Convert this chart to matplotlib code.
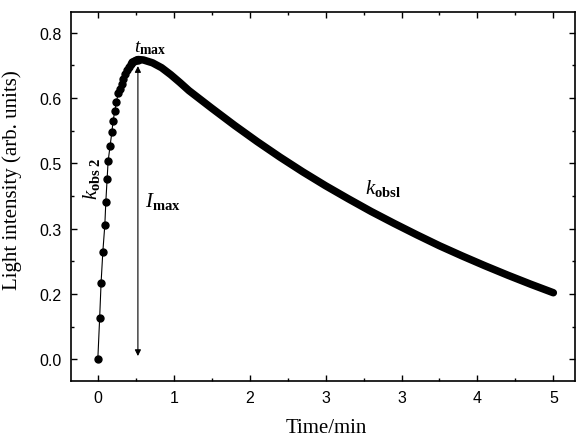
import matplotlib
matplotlib.use("Agg")
import matplotlib.pyplot as plt
from matplotlib.ticker import AutoMinorLocator

plt.rcParams['mathtext.fontset'] = 'custom'
plt.rcParams['mathtext.rm'] = 'Liberation Serif'
plt.rcParams['mathtext.it'] = 'Liberation Serif:italic'
plt.rcParams['mathtext.bf'] = 'Liberation Serif:bold'

# rising part, individual readings (min, arb. units)
rise_t = [0.000, 0.020, 0.036, 0.055, 0.077, 0.088, 0.102, 0.113, 0.135, 0.154,
          0.168, 0.187, 0.205, 0.223, 0.240, 0.260, 0.280, 0.300, 0.320, 0.340,
          0.360, 0.380, 0.400, 0.420, 0.440]
rise_I = [0.000, 0.100, 0.188, 0.263, 0.329, 0.386, 0.441, 0.485, 0.523, 0.556,
          0.584, 0.609, 0.631, 0.651, 0.662, 0.674, 0.687, 0.699, 0.708, 0.716,
          0.722, 0.727, 0.731, 0.733, 0.734]

# decay part (dense points merge into a thick band)
decay_t = [0.44, 0.50, 0.60, 0.70, 0.80, 0.90, 1.00, 1.25, 1.50, 1.75, 2.00,
           2.25, 2.50, 2.75, 3.00, 3.25, 3.50, 3.75, 4.00, 4.25, 4.50, 4.75, 5.00]
decay_I = [0.734, 0.733, 0.726, 0.714, 0.697, 0.678, 0.658, 0.615, 0.573, 0.533,
           0.495, 0.459, 0.425, 0.393, 0.362, 0.333, 0.305, 0.278, 0.253, 0.229,
           0.206, 0.184, 0.163]

t_max = 0.44
arrow_top = 0.718
arrow_bottom = 0.008

xticks = [0, 5/6, 10/6, 15/6, 20/6, 25/6, 5]
xtick_labels = ["0", "1", "2", "3", "3", "4", "5"]
yticks = [0.0, 0.16, 0.32, 0.48, 0.64, 0.80]
ytick_labels = ["0.0", "0.2", "0.3", "0.5", "0.6", "0.8"]

fig = plt.figure(figsize=(5.76, 4.39), dpi=100)
ax = fig.add_axes([0.123, 0.129, 0.875, 0.841])

ax.plot(rise_t, rise_I, color="black", linewidth=0.8, marker="o",
        markersize=5, markerfacecolor="black", markeredgecolor="black")
ax.plot(decay_t, decay_I, color="black", linewidth=5.4, solid_capstyle="round",
        solid_joinstyle="round")

ax.annotate("", xy=(t_max, arrow_bottom), xytext=(t_max, arrow_top),
            arrowprops=dict(arrowstyle="<|-|>", color="black", lw=0.8,
                            mutation_scale=9, shrinkA=0, shrinkB=0))

ax.text(0.40, 0.755, r"$t_{\mathbf{max}}$", fontsize=14)
ax.text(0.52, 0.375, r"$I_{\mathbf{max}}$", fontsize=15)
ax.text(-0.19, 0.392, r"$k_{\mathbf{obs\ 2}}$", fontsize=15, rotation=90,
        ha="left", va="bottom")
ax.text(2.93, 0.408, r"$k_{\mathbf{obsl}}$", fontsize=15)

ax.set_xlim(-0.296, 5.236)
ax.set_ylim(-0.054, 0.850)
ax.set_xticks(xticks)
ax.set_xticklabels(xtick_labels, family="Liberation Sans", fontsize=11.5)
ax.set_yticks(yticks)
ax.set_yticklabels(ytick_labels, family="Liberation Sans", fontsize=11.5)
ax.xaxis.set_minor_locator(AutoMinorLocator(2))
ax.yaxis.set_minor_locator(AutoMinorLocator(2))
ax.tick_params(which="both", direction="in", top=True, right=True, width=1.0)
ax.tick_params(which="major", length=4.5, pad=6.5)
ax.tick_params(which="minor", length=2.5)
for s in ax.spines.values():
    s.set_linewidth(1.2)

ax.set_xlabel("Time/min", family="Liberation Serif", fontsize=15)
ax.set_ylabel("Light intensity (arb. units)", family="Liberation Serif", fontsize=15)
ax.xaxis.set_label_coords(0.506, -0.098)
ax.yaxis.set_label_coords(-0.097, 0.549)

fig.savefig("out.png", dpi=100)
